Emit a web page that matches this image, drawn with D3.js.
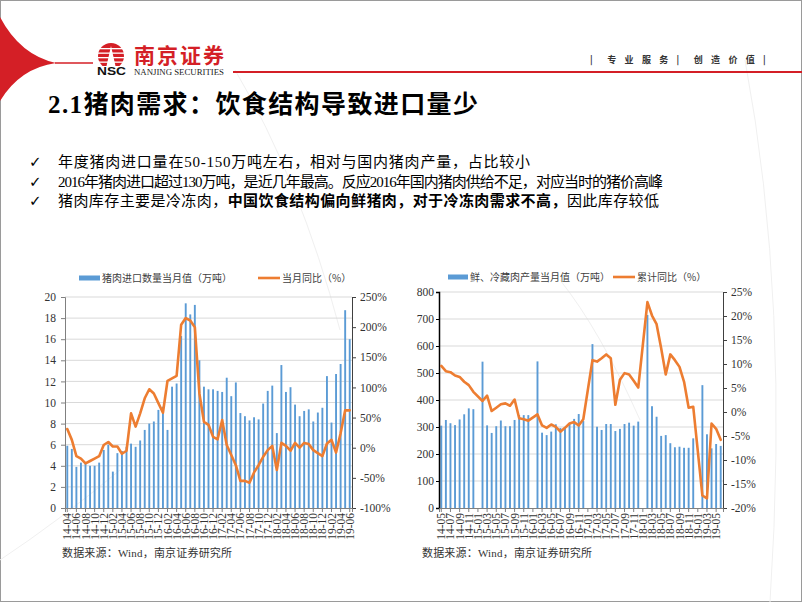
<!DOCTYPE html>
<html><head><meta charset="utf-8">
<script src="https://cdn.jsdelivr.net/npm/d3@7"></script>
<style>
html,body{margin:0;padding:0;background:#fff;}
svg{display:block;}
</style></head>
<body>
<svg id="c" width="802" height="602"></svg>
<script>
// ---------------- DATA ----------------
const leftMonths = ["14-04","14-05","14-06","14-07","14-08","14-09","14-10","14-11","14-12",
  "15-01","15-02","15-03","15-04","15-05","15-06","15-07","15-08","15-09","15-10","15-11","15-12",
  "16-01","16-02","16-03","16-04","16-05","16-06","16-07","16-08","16-09","16-10","16-11","16-12",
  "17-01","17-02","17-03","17-04","17-05","17-06","17-07","17-08","17-09","17-10","17-11","17-12",
  "18-01","18-02","18-03","18-04","18-05","18-06","18-07","18-08","18-09","18-10","18-11","18-12",
  "19-01","19-02","19-03","19-04","19-05","19-06"];
// 猪肉进口数量当月值（万吨）
const leftImport = [5.9,5.6,3.9,4.3,4.2,4.0,4.0,4.3,5.5,6.0,
  3.45,5.2,5.4,5.8,6.1,5.8,6.4,7.4,8.0,8.2,
  9.3,9.6,7.4,11.5,11.8,16.3,19.4,18.35,19.25,14.0,
  11.5,11.25,11.25,11.1,11.0,12.35,10.6,11.9,9.0,8.7,
  8.3,8.6,8.4,9.9,11.1,11.6,7.1,13.55,11.0,11.45,
  9.8,8.7,9.2,9.35,8.2,9.05,9.5,12.5,8.1,12.7,
  13.65,18.75,16.0];
// 当月同比（%）
const leftYoY = [31,13,-14,-18,-26,-22,-18,-14,4.5,9.5,
  2,2,-10,-5,57,35,57,82,97,90,
  74,58,111,115,119,204,215,211,200,90,
  43,38,18,14,46,4.5,-12,-29,-55,-55,
  -58,-41,-29,-15,-4,3,-37,8,3,-5,
  8,0,8,6,-4,-9,-14,7,13,-8,
  24,62,62];
const leftAxisTicks = [0,2,4,6,8,10,12,14,16,18,20];
const leftPctTicks = [-100,-50,0,50,100,150,200,250];

const rightMonths = ["14-05","14-06","14-07","14-08","14-09","14-10","14-11","14-12",
  "15-01","15-02","15-03","15-04","15-05","15-06","15-07","15-08","15-09","15-10","15-11","15-12",
  "16-01","16-02","16-03","16-04","16-05","16-06","16-07","16-08","16-09","16-10","16-11","16-12",
  "17-01","17-02","17-03","17-04","17-05","17-06","17-07","17-08","17-09","17-10","17-11","17-12",
  "18-01","18-02","18-03","18-04","18-05","18-06","18-07","18-08","18-09","18-10","18-11","18-12",
  "19-01","19-02","19-03","19-04","19-05","19-06"];
// 鲜、冷藏肉产量当月值（万吨）
const rightOutput = [305,326,314,307,328,347,369,366,null,542,
  306,278,303,324,303,303,326,344,344,344,
  null,543,279,270,283,310,296,299,312,330,
  348,322,null,607,301,289,311,311,285,293,
  311,316,305,320,null,715,377,338,267,270,
  240,225,227,223,223,258,null,455,273,221,
  237,230];
// 累计同比（%）
const rightCumYoY = [9.6,8.5,8.3,7.6,7.3,6.3,5.6,4.2,null,2.3,
  3.4,0.2,0.9,1.6,1.8,1.3,2.6,-1.3,-1.5,-1.8,
  null,-0.5,-2.8,-3.3,-2.6,-3.1,-4.1,-3.3,-2.4,-2.1,
  -2.8,-1.5,null,10.8,10.5,11.2,12.0,11.2,1.5,6.7,
  8.1,7.8,6.5,5.1,null,22.9,20.1,18.3,13.3,7.8,
  12.0,10.8,9.4,6.3,0.9,1.1,null,-17.4,-18.0,-2.4,
  -3.5,-5.8];
const rightAxisTicks = [0,100,200,300,400,500,600,700,800];
const rightPctTicks = [-20,-15,-10,-5,0,5,10,15,20,25];

const bullets = [
  [{t:"年度猪肉进口量在50-150万吨左右，相对与国内猪肉产量，占比较小",b:false}],
  [{t:"2016年猪肉进口超过130万吨，是近几年最高。反应2016年国内猪肉供给不足，对应当时的猪价高峰",b:false}],
  [{t:"猪肉库存主要是冷冻肉，",b:false},{t:"中国饮食结构偏向鲜猪肉，对于冷冻肉需求不高，",b:true},{t:"因此库存较低",b:false}]
];

// ---------------- STYLE ----------------
const SERIF = "'Liberation Serif','Times New Roman','Noto Sans CJK SC',serif";
const SANS = "'Noto Sans CJK SC','Noto Sans',sans-serif";
const BLUE = "#5B9BD5", ORANGE = "#ED7D31", GRID = "#D9D9D9", RED = "#D41F26";

const svg = d3.select("#c");
svg.append("rect").attr("x",0.5).attr("y",0.5).attr("width",801).attr("height",601)
  .attr("fill","#fff").attr("stroke","#9a9a9a");

// faint decorative arcs
const deco = svg.append("g").attr("fill","none").attr("stroke","#f0f0f0").attr("stroke-width",1);
deco.append("path").attr("d","M235,70 Q300,180 340,330");
deco.append("path").attr("d","M560,280 Q600,330 640,420");
deco.append("path").attr("d","M745,60 Q790,300 770,602");
deco.append("path").attr("d","M0,560 Q60,520 120,470");

// header swoosh
svg.append("path").attr("d","M0,17 Q20,55 56,63 Q20,68 0,101 Z").attr("fill",RED);
svg.append("line").attr("x1",55).attr("x2",93).attr("y1",63).attr("y2",63)
  .attr("stroke",RED).attr("stroke-width",1.5);
// logo icon
const logo = svg.append("g");
logo.append("clipPath").attr("id","lc").append("rect").attr("x",96).attr("y",40).attr("width",30).attr("height",26);
const lg = logo.append("g").attr("clip-path","url(#lc)");
lg.append("circle").attr("cx",111).attr("cy",56).attr("r",13).attr("fill",RED);
[48,52.5,57,61.5].forEach(y=>lg.append("rect").attr("x",96).attr("y",y).attr("width",30).attr("height",1.3).attr("fill","#fff"));
lg.append("path").attr("d","M111,46 L106.5,66 L115.5,66 Z").attr("fill","#fff");
svg.append("text").attr("x",97).attr("y",75).attr("font-family","'Liberation Sans',Arial,sans-serif")
  .attr("font-weight","bold").attr("font-size",10).attr("textLength",29).attr("lengthAdjust","spacingAndGlyphs")
  .attr("fill","#111").text("NSC");
svg.append("text").attr("x",134).attr("y",63).attr("font-family",SANS).attr("font-weight","bold")
  .attr("font-size",21).attr("textLength",90).attr("fill",RED).text("南京证券");
svg.append("text").attr("x",134).attr("y",75).attr("font-family",SERIF).attr("font-size",7.5)
  .attr("textLength",90).attr("lengthAdjust","spacingAndGlyphs").attr("fill","#222").text("NANJING SECURITIES");
svg.append("line").attr("x1",233).attr("x2",802).attr("y1",72).attr("y2",72).attr("stroke",RED).attr("stroke-width",2);
const slogan = ["|","专","业","服","务","|","创","造","价","值","|"];
const sl = svg.append("text").attr("y",63).attr("font-family",SANS).attr("font-size",9).attr("font-weight","bold").attr("fill","#333");
slogan.forEach((s,i)=>sl.append("tspan").attr("x",590+i*17.3).text(s));

// title
svg.append("text").attr("x",48).attr("y",113).attr("font-family",SERIF).attr("font-weight","bold")
  .attr("font-size",25).attr("textLength",430).attr("fill","#000").text("2.1猪肉需求：饮食结构导致进口量少");

// bullets
const bulletLens = [472,605,601];
bullets.forEach((parts,i)=>{
  const y = 167 + i*19.5;
  svg.append("text").attr("x",29).attr("y",y).attr("font-family","'DejaVu Sans',sans-serif").attr("font-size",15).attr("fill","#000").text("✓");
  const t = svg.append("text").attr("x",58).attr("y",y).attr("font-family",SERIF).attr("font-size",15)
    .attr("textLength",bulletLens[i]).attr("fill","#000");
  parts.forEach(p=>t.append("tspan").attr("font-weight",p.b?"bold":"normal").text(p.t));
});

// ---------------- CHART HELPER ----------------
function drawChart(o){
  const g = svg.append("g");
  const x = d3.scaleBand().domain(o.months).range([o.x0,o.x1]).padding(0);
  const yL = d3.scaleLinear().domain(o.leftDomain).range([o.yBot,o.yTop]);
  const yR = d3.scaleLinear().domain(o.rightDomain).range([o.yBot,o.yTop]);
  const cx = m => x(m) + x.bandwidth()/2;

  // grid
  g.append("g").selectAll("line").data(o.leftTicks.filter(t=>t!==o.leftDomain[0])).join("line")
    .attr("x1",o.x0).attr("x2",o.x1).attr("y1",d=>yL(d)).attr("y2",d=>yL(d))
    .attr("stroke",GRID).attr("stroke-width",1);

  // bars
  const bd = o.months.map((m,i)=>({m,v:o.bars[i]})).filter(d=>d.v!=null);
  g.append("g").selectAll("rect").data(bd).join("rect")
    .attr("x",d=>cx(d.m)-0.95).attr("width",1.9)
    .attr("y",d=>yL(d.v)).attr("height",d=>yL(0)-yL(d.v)).attr("fill",BLUE);

  // axes
  const axL = g.append("g").attr("transform",`translate(${o.x0},0)`)
    .call(d3.axisLeft(yL).tickValues(o.leftTicks).tickSize(o.lTick).tickPadding(o.lPad).tickFormat(o.leftFmt));
  axL.select(".domain").attr("stroke",o.lAxisColor).attr("stroke-width",o.lAxisW);
  axL.selectAll(".tick line").attr("stroke",o.lAxisColor);
  const axR = g.append("g").attr("transform",`translate(${o.x1},0)`)
    .call(d3.axisRight(yR).tickValues(o.rightTicks).tickSize(4).tickPadding(4).tickFormat(d=>d+"%"));
  axR.select(".domain").attr("stroke","#404040");
  axR.selectAll(".tick line").attr("stroke","#404040");
  const lab = o.months.filter((m,i)=>i%2===0);
  const axB = g.append("g").attr("transform",`translate(0,${o.yBot})`)
    .call(d3.axisBottom(x).tickValues(lab).tickSize(4));
  axB.select(".domain").attr("stroke","#808080");
  axB.selectAll(".tick line").attr("stroke","#808080");
  axB.selectAll("text").attr("transform","rotate(-90)").attr("x",-5).attr("y",0).attr("dy","0.35em")
    .attr("text-anchor","end");
  [axL,axR,axB].forEach(a=>a.selectAll("text").attr("font-family",SERIF).attr("font-size",11.5).attr("fill","#333"));
  axB.selectAll("text").attr("font-size",11.5);

  // line
  const ld = o.months.map((m,i)=>({m,v:o.line[i]})).filter(d=>d.v!=null);
  g.append("path").datum(ld).attr("fill","none").attr("stroke",ORANGE).attr("stroke-width",2.6)
    .attr("stroke-linejoin","round").attr("stroke-linecap","round")
    .attr("d",d3.line().x(d=>cx(d.m)).y(d=>yR(d.v)));

  // legend
  const lgd = g.append("g").attr("font-family",SANS).attr("font-size",10).attr("fill","#404040");
  lgd.append("rect").attr("x",o.leg[0]).attr("y",o.legY-2.5).attr("width",o.leg[1]-o.leg[0]).attr("height",5).attr("fill",BLUE);
  lgd.append("text").attr("x",o.leg[1]+2).attr("y",o.legY+3.6).text(o.legText1);
  lgd.append("line").attr("x1",o.leg[2]).attr("x2",o.leg[3]).attr("y1",o.legY).attr("y2",o.legY)
    .attr("stroke",ORANGE).attr("stroke-width",2.6);
  lgd.append("text").attr("x",o.leg[3]+2).attr("y",o.legY+3.6).text(o.legText2);

  // source
  g.append("text").attr("x",o.srcX).attr("y",557).attr("font-family",SERIF).attr("font-size",11)
    .attr("textLength",170).attr("fill","#333").text("数据来源：Wind，南京证券研究所");
}

drawChart({
  months:leftMonths, bars:leftImport, line:leftYoY,
  x0:65, x1:352, yTop:297, yBot:508,
  leftDomain:[0,20], leftTicks:leftAxisTicks, leftFmt:d=>d,
  rightDomain:[-100,250], rightTicks:leftPctTicks,
  lTick:4, lPad:5, lAxisColor:"#808080", lAxisW:1,
  leg:[79,100,258,280], legY:278,
  legText1:"猪肉进口数量当月值（万吨）", legText2:"当月同比（%）",
  srcX:62
});
drawChart({
  months:rightMonths, bars:rightOutput, line:rightCumYoY,
  x0:439, x1:723, yTop:292, yBot:508,
  leftDomain:[0,800], leftTicks:rightAxisTicks, leftFmt:d=>d,
  rightDomain:[-20,25], rightTicks:rightPctTicks,
  lTick:3, lPad:2, lAxisColor:"#000", lAxisW:1.5,
  leg:[448,468,613,635], legY:277,
  legText1:"鲜、冷藏肉产量当月值（万吨）", legText2:"累计同比（%）",
  srcX:422
});
</script>
</body></html>
